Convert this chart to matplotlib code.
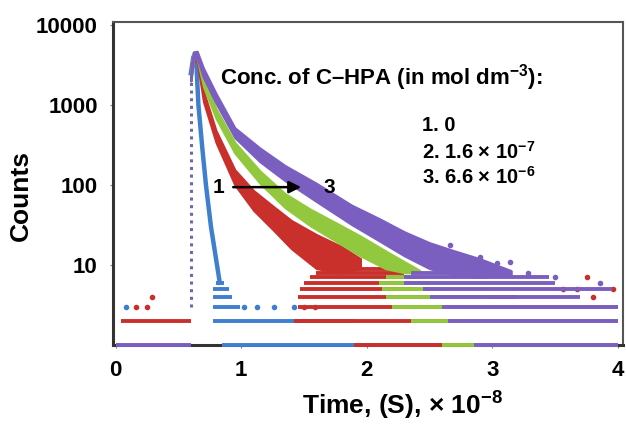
import matplotlib.pyplot as plt

plt.rcParams['font.family'] = ['Liberation Sans', 'DejaVu Sans']
plt.rcParams['mathtext.fontset'] = 'custom'
plt.rcParams['mathtext.rm'] = 'Liberation Sans:bold'
plt.rcParams['mathtext.default'] = 'rm'

# decay bands: time (x 1e-8 s), lower / upper counts
blue_t = [0.60, 0.62, 0.64, 0.66, 0.69, 0.72, 0.76, 0.80, 0.83]
blue_c = [2500, 4000, 4300, 1000, 300, 100, 30, 12, 6]

red_t = [0.60, 0.62, 0.65, 0.70, 0.80, 0.95, 1.10, 1.25, 1.40, 1.60, 1.80, 1.95]
red_lo = [2000, 3500, 3500, 1100, 340, 100, 48, 28, 16, 9, 8, 9]
red_hi = [3000, 4500, 4200, 1500, 480, 155, 85, 55, 36, 24, 17, 12]

green_t = [0.60, 0.62, 0.65, 0.70, 0.80, 0.95, 1.15, 1.35, 1.55, 1.75, 1.95, 2.15, 2.30, 2.42]
green_lo = [2000, 3600, 3800, 1700, 680, 250, 105, 52, 31, 20, 13, 9, 8, 8]
green_hi = [3000, 4600, 4600, 2300, 900, 340, 150, 78, 50, 34, 23, 15, 11, 8.6]

purple_t = [0.60, 0.62, 0.65, 0.70, 0.80, 0.95, 1.15, 1.35, 1.60, 1.88, 2.10, 2.30, 2.50, 2.70, 2.90, 3.15]
purple_lo = [2000, 3600, 3800, 2200, 1050, 390, 195, 113, 62, 32, 20, 13, 9, 7.5, 7, 7.5]
purple_hi = [3000, 4600, 4700, 2900, 1400, 520, 290, 175, 105, 56, 38, 26, 19, 15, 12, 8.5]

# rising edge (one channel)
rise_t = [0.60, 0.60]
rise_c = [3, 2500]

# discrete count rows: level, first and last time
blue_levels = [1, 2, 3, 4, 5, 6]
blue_start = [0.85, 0.78, 0.78, 0.78, 0.78, 0.80]
blue_end = [4.0, 1.90, 0.99, 0.93, 0.90, 0.86]

red_levels = [1, 2, 2, 3, 4, 5, 6, 7, 8, 9]
red_start = [1.90, 0.04, 1.42, 1.45, 1.45, 1.47, 1.50, 1.55, 1.60, 1.65]
red_end = [4.0, 0.60, 4.0, 4.0, 3.20, 2.40, 2.40, 2.35, 2.30, 2.20]

green_levels = [1, 2, 3, 4, 5, 6, 7]
green_start = [2.60, 2.35, 2.20, 2.15, 2.12, 2.10, 2.15]
green_end = [4.0, 4.0, 4.0, 3.00, 2.60, 2.50, 2.40]

purple_levels = [1, 1, 2, 3, 4, 5, 6, 7, 8]
purple_start = [0.0, 2.85, 2.65, 2.60, 2.50, 2.45, 2.30, 2.30, 2.35]
purple_end = [0.60, 4.0, 4.0, 4.0, 3.70, 3.95, 3.50, 3.45, 3.00]

# loose single points
blue_dots_t = [0.08, 1.02, 1.13, 1.26, 1.42]
blue_dots_c = [3, 3, 3, 3, 3]
red_dots_t = [0.16, 0.25, 0.29, 1.50, 1.59, 3.56, 3.67, 3.75, 3.96, 3.80]
red_dots_c = [3, 3, 4, 3, 3, 5, 5, 7, 5, 4]
purple_dots_t = [2.66, 2.90, 3.04, 3.14, 3.28, 3.50, 3.86]
purple_dots_c = [17.8, 12.6, 10.6, 10.9, 7.9, 7.1, 6]

c_blue = '#3f7fd0'
c_red = '#c9302c'
c_green = '#92c83e'
c_purple = '#7b5fc0'

fig = plt.figure(figsize=(6.26, 4.28), dpi=100)
ax = fig.add_axes([113 / 626, 1 - 345 / 428, 510 / 626, 323 / 428])
ax.set_yscale('log')

row_lw = 2.8

# each colour: rows, then band, then loose points
ax.hlines(blue_levels, blue_start, blue_end, colors=c_blue, lw=row_lw, clip_on=False, zorder=3)
ax.plot(blue_t, blue_c, color=c_blue, lw=3.2, zorder=3)
ax.scatter(blue_dots_t, blue_dots_c, s=9, color=c_blue, zorder=3)

ax.hlines(red_levels, red_start, red_end, colors=c_red, lw=row_lw, clip_on=False, zorder=4)
ax.fill_between(red_t, red_lo, red_hi, color=c_red, lw=1.5, edgecolor=c_red, zorder=4)
ax.scatter(red_dots_t, red_dots_c, s=9, color=c_red, zorder=4)

ax.hlines(green_levels, green_start, green_end, colors=c_green, lw=row_lw, clip_on=False, zorder=5)
ax.fill_between(green_t, green_lo, green_hi, color=c_green, lw=1.5, edgecolor=c_green, zorder=5)

ax.hlines(purple_levels, purple_start, purple_end, colors=c_purple, lw=row_lw, clip_on=False, zorder=6)
ax.fill_between(purple_t, purple_lo, purple_hi, color=c_purple, lw=1.5, edgecolor=c_purple, zorder=6)
ax.scatter(purple_dots_t, purple_dots_c, s=9, color=c_purple, zorder=6)

ax.plot(rise_t, rise_c, color='#6a6aa8', lw=2.2, ls=(0, (1, 1.5)), zorder=7)

ax.set_xlim(-0.02, 4.04)
ax.set_ylim(1, 10900)
ax.set_xticks([0, 1, 2, 3, 4])
ax.set_xticklabels(['0', '1', '2', '3', '4'])
ax.set_yticks([10, 100, 1000, 10000])
ax.set_yticklabels(['10', '100', '1000', '10000'])
ax.minorticks_off()
ax.tick_params(axis='both', length=2, color='#808080', labelsize=16, pad=9)
for lab in ax.get_xticklabels() + ax.get_yticklabels():
    lab.set_fontweight('bold')

for side in ['top', 'right']:
    ax.spines[side].set_color('#555555')
    ax.spines[side].set_linewidth(1.5)
for side in ['left', 'bottom']:
    ax.spines[side].set_color('#333333')
    ax.spines[side].set_linewidth(2.2)

ax.set_xlabel('Time, (S), × 10$^{-8}$', fontsize=19, fontweight='bold')
ax.xaxis.set_label_coords(0.567, -0.14)
ax.set_ylabel('Counts', fontsize=19, fontweight='bold')
ax.yaxis.set_label_coords(-0.157, 0.464)

ax.text(0.835, 2200, 'Conc. of C–HPA (in mol dm$^{-3}$):', fontsize=16, fontweight='bold',
        va='center', ha='left', zorder=8)
ax.text(2.44, 562, '1. 0', fontsize=14.5, fontweight='bold', va='center', zorder=8)
ax.text(2.44, 257, '2. 1.6 × 10$^{-7}$', fontsize=14.5, fontweight='bold', va='center', zorder=8)
ax.text(2.44, 126, '3. 6.6 × 10$^{-6}$', fontsize=14.5, fontweight='bold', va='center', zorder=8)

ax.annotate('', xy=(1.50, 94), xytext=(0.915, 94),
            arrowprops=dict(arrowstyle='-|>', color='black', lw=1.8, mutation_scale=18), zorder=8)
ax.text(0.82, 94, '1', fontsize=15, fontweight='bold', va='center', ha='center', zorder=8)
ax.text(1.70, 94, '3', fontsize=15, fontweight='bold', va='center', ha='center', zorder=8)

fig.savefig('out.png', dpi=100)
